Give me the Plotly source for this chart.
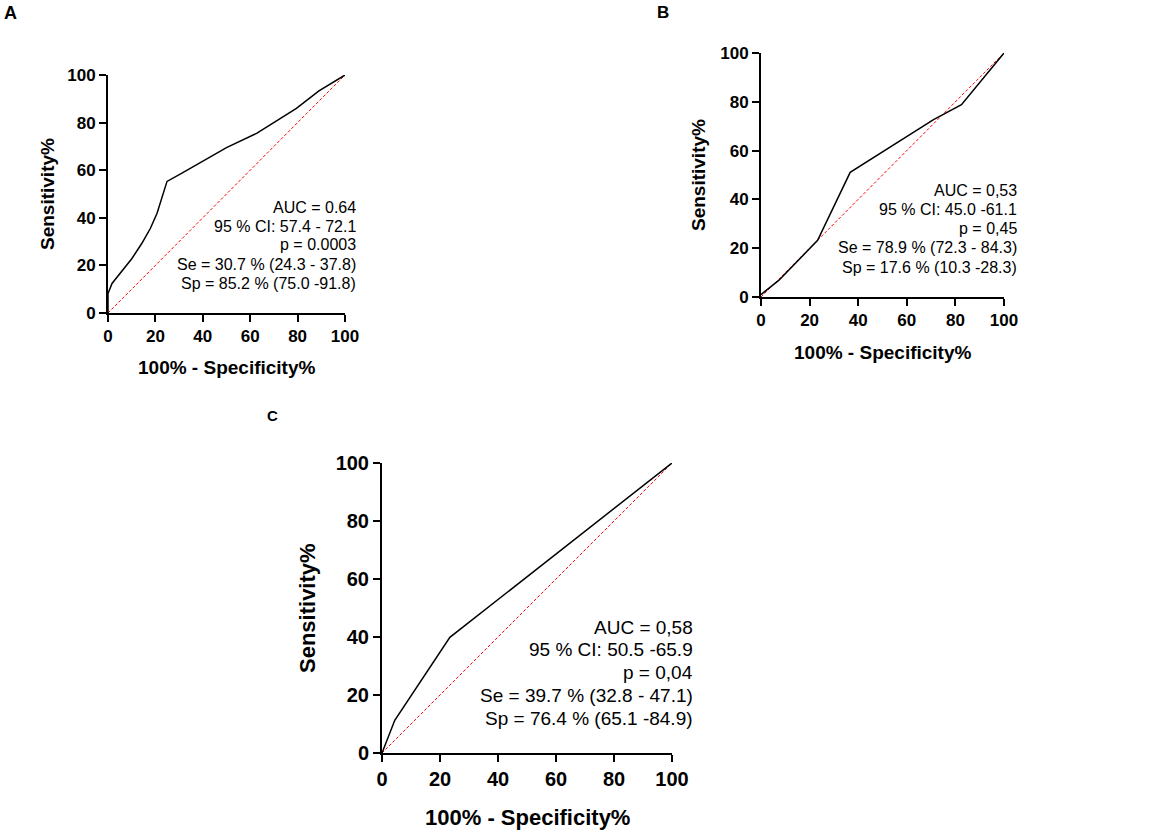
import plotly.graph_objects as go

# ROC 곡선 데이터 (100% - 특이도, 민감도)
a_fpr = [0, 0, 1.7, 4.5, 10.1, 14.3, 17.9, 20.7, 22.8, 24.9, 31.2, 39.7, 50, 62.7, 70, 79.5, 89, 100]
a_tpr = [0, 8.2, 12.4, 15.9, 22.9, 29.3, 35.6, 41.9, 48.2, 55.3, 58.8, 63.7, 69.5, 75.5, 80, 86, 93.3, 100]

b_fpr = [0, 7.3, 23.3, 36.7, 71, 82.5, 100]
b_tpr = [1, 6.8, 23.2, 51.1, 72.7, 78.8, 100]

c_fpr = [0, 4.4, 23.4, 100]
c_tpr = [0, 11.3, 39.9, 100]

ref_line = [0, 100]
ticks = [0, 20, 40, 60, 80, 100]

a_stats = ["AUC = 0.64", "95 % CI: 57.4 - 72.1", "p = 0.0003",
           "Se = 30.7 % (24.3 - 37.8)", "Sp = 85.2 % (75.0 -91.8)"]
b_stats = ["AUC = 0,53", "95 % CI: 45.0 -61.1", "p = 0,45",
           "Se = 78.9 % (72.3 - 84.3)", "Sp = 17.6 % (10.3 -28.3)"]
c_stats = ["AUC = 0,58", "95 % CI: 50.5 -65.9", "p = 0,04",
           "Se = 39.7 % (32.8 - 47.1)", "Sp = 76.4 % (65.1 -84.9)"]

x_title = "100% - Specificity%"
y_title = "Sensitivity%"

W, H = 1170, 835
FONT = "Liberation Sans, Arial, sans-serif"

# 패널별 위치 (픽셀): 축 범위, 글자 크기, 텍스트 위치(오른쪽 끝, 첫 줄 y, 줄 간격)
panels = [
    dict(key="", fpr=a_fpr, tpr=a_tpr, stats=a_stats, letter="A",
         px=(108, 345), py=(75, 313), tick=17, title=19, txt=16,
         tpos=(358, 207, 19), xt=54, yt=61, lpos=(10, 13), lsize=18),
    dict(key="2", fpr=b_fpr, tpr=b_tpr, stats=b_stats, letter="B",
         px=(761, 1004), py=(53, 297), tick=17, title=19, txt=16,
         tpos=(1019, 190, 19.3), xt=55, yt=63, lpos=(663, 12), lsize=17),
    dict(key="3", fpr=c_fpr, tpr=c_tpr, stats=c_stats, letter="C",
         px=(382, 672), py=(463, 753), tick=20, title=22, txt=19,
         tpos=(695, 627, 22.8), xt=64, yt=75, lpos=(272, 415), lsize=15),
]

fig = go.Figure()
annotations = []
layout = {}

for p in panels:
    xa = "x" + p["key"]
    ya = "y" + p["key"]

    # 기준선 (빨간 점선)
    fig.add_trace(go.Scatter(x=ref_line, y=ref_line, mode="lines", xaxis=xa, yaxis=ya,
                             line=dict(color="#ff0000", width=1, dash="3px,2px"),
                             cliponaxis=False, showlegend=False, hoverinfo="skip"))
    # ROC 곡선
    fig.add_trace(go.Scatter(x=p["fpr"], y=p["tpr"], mode="lines", xaxis=xa, yaxis=ya,
                             line=dict(color="black", width=1.5),
                             cliponaxis=False, showlegend=False))

    axis_common = dict(range=[0, 100], tickvals=ticks, showline=True, linecolor="black",
                       linewidth=2, ticks="outside", ticklen=7, tickwidth=2,
                       tickcolor="black", showgrid=False, zeroline=False, automargin=False,
                       tickfont=dict(family=FONT, size=p["tick"], color="black", weight="bold"))
    layout["xaxis" + p["key"]] = dict(
        domain=[p["px"][0] / W, p["px"][1] / W], anchor=ya, **axis_common)
    layout["yaxis" + p["key"]] = dict(
        domain=[1 - p["py"][1] / H, 1 - p["py"][0] / H], anchor=xa, **axis_common)

    # 통계 텍스트 (줄마다 따로 배치)
    tx, ty, dy = p["tpos"]
    for i, line in enumerate(p["stats"]):
        annotations.append(dict(
            text=line, xref="paper", yref="paper",
            x=tx / W, y=1 - (ty + i * dy) / H,
            xanchor="right", yanchor="middle", align="right", showarrow=False,
            font=dict(family=FONT, size=p["txt"], color="black")))

    # 축 제목
    annotations.append(dict(
        text=x_title, xref=xa + " domain", yref=ya + " domain", x=0.5, y=0,
        yshift=-p["xt"], xanchor="center", yanchor="middle", showarrow=False,
        font=dict(family=FONT, size=p["title"], color="black", weight="bold")))
    annotations.append(dict(
        text=y_title, xref=xa + " domain", yref=ya + " domain", x=0, y=0.5,
        xshift=-p["yt"], xanchor="center", yanchor="middle", textangle=-90,
        showarrow=False,
        font=dict(family=FONT, size=p["title"], color="black", weight="bold")))

    # 패널 문자
    annotations.append(dict(
        text=p["letter"], xref="paper", yref="paper",
        x=p["lpos"][0] / W, y=1 - p["lpos"][1] / H,
        xanchor="center", yanchor="middle", showarrow=False,
        font=dict(family=FONT, size=p["lsize"], color="black", weight="bold")))

fig.update_layout(
    width=W, height=H,
    margin=dict(l=0, r=0, t=0, b=0, autoexpand=False),
    paper_bgcolor="white", plot_bgcolor="white",
    annotations=annotations,
    **layout,
)

# 페이지 기본 여백 제거, 모드바 숨김
fig.write_html("out.html", config={"displayModeBar": False},
               post_script="document.body.style.margin='0';document.body.style.overflow='hidden';")
